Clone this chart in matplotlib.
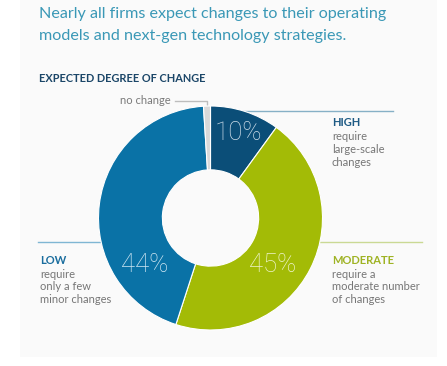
import matplotlib
matplotlib.use("Agg")
import matplotlib.pyplot as plt
from matplotlib.patches import Rectangle

plt.rcParams['font.family'] = ['Lato', 'DejaVu Sans']

# data
categories = ['HIGH', 'MODERATE', 'LOW', 'no change']
shares = [10, 45, 44, 1]
pct_labels = ['10%', '45%', '44%', '']
descriptions = ['require\nlarge-scale\nchanges',
                'require a\nmoderate number\nof changes',
                'require\nonly a few\nminor changes']
colors = ['#0b4e78', '#a3bb06', '#0a72a6', '#d9d9d9']
title = 'Nearly all firms expect changes to their operating\nmodels and next-gen technology strategies.'
subtitle = 'EXPECTED DEGREE OF CHANGE'

W, H = 447, 366
fig = plt.figure(figsize=(W / 100, H / 100), dpi=100, facecolor='white')
ax = fig.add_axes([0, 0, 1, 1])

def Y(py):
    # pixel row -> data y
    return H - py

cx, cy, R = 210.5, Y(218), 112
wedges, _ = ax.pie(shares, colors=colors, startangle=90, counterclock=False,
                   center=(cx, cy), radius=R,
                   wedgeprops=dict(width=R * 0.57, edgecolor='white', linewidth=0.8))
for w in wedges:
    w.set_zorder(3)
ax.set_xlim(0, W)
ax.set_ylim(0, H)
ax.set_aspect('auto')
ax.axis('off')

# page background
ax.add_patch(Rectangle((20, Y(357)), 417, 357, facecolor='#fafafa', edgecolor='none', zorder=-5))

# percent labels inside ring (thin face)
pct_pos = [(238, 133), (273, 265), (145, 265)]
pct_cols = ['#cddde9', '#eef4cc', '#cfe6f2']
for lab, (px, py), c in zip(pct_labels, pct_pos, pct_cols):
    ax.text(px, Y(py), lab, fontsize=18.5, family=['Roboto', 'DejaVu Sans'],
            fontweight='light', color=c, ha='center', va='center', zorder=5)

# title and subtitle
ax.text(39, Y(7), title, fontsize=11.6, color='#3a98b6', ha='left', va='top',
        linespacing=1.75)
ax.text(39, Y(78), subtitle, fontsize=7.9, fontweight='bold', color='#1b4668',
        ha='left', va='center')

# leader lines
ax.plot([212, 393], [Y(111), Y(111)], color='#86b0c6', lw=1, zorder=1)
ax.plot([300, 422], [Y(242), Y(242)], color='#cad994', lw=1, zorder=1)
ax.plot([38, 120], [Y(242), Y(242)], color='#7fb6d3', lw=1, zorder=1)
ax.plot([175, 207, 207], [Y(101), Y(101), Y(110)], color='#bdbdbd', lw=1, zorder=1)

ax.text(171, Y(101), 'no change', fontsize=8, color='#7a7a7a', ha='right', va='center')

# category labels
cat_pos = [(332, 123), (332, 260), (40, 260)]
cat_cols = ['#1d5a84', '#9fb324', '#1a6d9e']
for name, desc, (px, py), c in zip(categories[:3], descriptions, cat_pos, cat_cols):
    ax.text(px, Y(py), name, fontsize=8, fontweight='bold', color=c,
            ha='left', va='center')
    ax.text(px, Y(py + 8.5), desc, fontsize=8, color='#767676',
            ha='left', va='top', linespacing=1.17)

fig.savefig('out.png', dpi=100, facecolor=fig.get_facecolor())
